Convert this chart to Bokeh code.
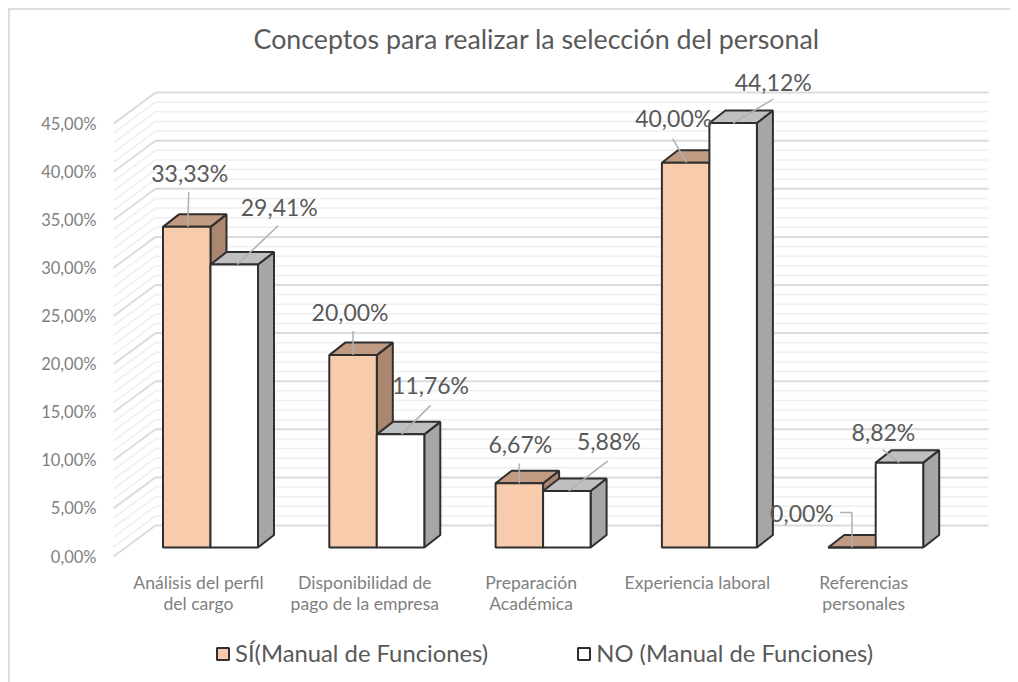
from bokeh.plotting import figure
from bokeh.models import Range1d, FixedTicker, Legend, LegendItem, ColumnDataSource
from bokeh.core.properties import value
from bokeh.embed import file_html
from bokeh.resources import INLINE

# ---- data ----
categories = ["Análisis del perfil\ndel cargo", "Disponibilidad de\npago de la empresa",
              "Preparación\nAcadémica", "Experiencia laboral", "Referencias\npersonales"]
si_values = [33.33, 20.00, 6.67, 40.00, 0.00]
no_values = [29.41, 11.76, 5.88, 44.12, 8.82]
series_names = ["SÍ(Manual de Funciones)", "NO (Manual de Funciones)"]
y_major = [0, 5, 10, 15, 20, 25, 30, 35, 40, 45]
y_minor = [v for v in range(0, 46) if v % 5]
title_text = "Conceptos para realizar la selección del personal"

# ---- layout constants (page pixels) ----
FONT = "Lato"
PX_PCT = 9.62          # px per 1 %
PX_CAT = 166.3         # px per category
X0_PAGE, Y0_PAGE = 210.0, 556.0   # page position of category 0 / value 0 on the front plane
FR_L, FR_R, FR_T, FR_B = 105, 1000, 66, 680
ux = lambda px: px / PX_CAT
uy = lambda px: px / PX_PCT

p = figure(width=1002, height=674, output_backend="svg", toolbar_location=None,
           x_range=Range1d(ux(FR_L - X0_PAGE), ux(FR_R - X0_PAGE)),
           y_range=Range1d(uy(Y0_PAGE - FR_B), uy(Y0_PAGE - FR_T)),
           min_border_left=FR_L - 8, min_border_right=1010 - FR_R,
           min_border_top=FR_T - 8, min_border_bottom=682 - FR_B,
           outline_line_color=None, border_fill_color=None, background_fill_color=None,
           styles={"margin": "8px 0 0 8px", "box-shadow": "inset 2px 2px 0 #dcdcdc"})
p.grid.visible = False

# title
p.title.text = title_text
p.title.text_font = FONT
p.title.text_font_size = "26.8px"
p.title.text_font_style = "normal"
p.title.text_color = "#595959"
p.title.align = "left"
p.title.offset = 253 - FR_L
p.title.standoff = 24

# axes
p.yaxis.ticker = FixedTicker(ticks=y_major)
p.yaxis.major_label_overrides = {v: f"{v},00%" for v in y_major}
p.xaxis.ticker = FixedTicker(ticks=[i + ux(-12) for i in range(len(categories))])
p.xaxis.major_label_overrides = {i + ux(-12): c for i, c in enumerate(categories)}
p.xaxis.fixed_location = uy(Y0_PAGE - 566)
for ax, size, standoff in ((p.yaxis, "16.5px", 3), (p.xaxis, "17.6px", -1)):
    ax.axis_line_color = None
    ax.major_tick_line_color = None
    ax.minor_tick_line_color = None
    ax.major_label_text_font = FONT
    ax.major_label_text_font_size = size
    ax.major_label_text_color = "#7f7f7f"
    ax.major_label_standoff = standoff
p.xaxis.major_label_text_line_height = 1.0

# back wall + side wall grid
WALL_DX, WALL_DY = ux(42), uy(31)
x_left, x_right = ux(113 - X0_PAGE), ux(988 - X0_PAGE)
def grid(vals, color, width):
    p.multi_line([[x_left, x_left + WALL_DX, x_right] for _ in vals],
                 [[v, v + WALL_DY, v + WALL_DY] for v in vals],
                 line_color=color, line_width=width)
grid(y_minor, "#efefef", 1.5)
grid(y_major, "#dcdcdc", 2)

# bars
W = ux(47.5)
DX, DY = ux(16), uy(12.5)
LIFT = uy(9)
OUT = "#2f2f2f"
def bars(values, left, front, top, side):
    xl = [i + left for i in range(len(values))]
    xr = [x + W for x in xl]
    yt = [v + LIFT for v in values]
    p.patches([[r, r + DX, r + DX, r] for r in xr],
              [[LIFT, LIFT + DY, t + DY, t] for t in yt],
              fill_color=side, line_color=OUT, line_width=2)
    p.patches([[l, l + DX, r + DX, r] for l, r in zip(xl, xr)],
              [[t, t + DY, t + DY, t] for t in yt],
              fill_color=top, line_color=OUT, line_width=2)
    return p.vbar(x=[x + W / 2 for x in xl], width=W, bottom=LIFT, top=yt,
                  fill_color=front, line_color=OUT, line_width=2)

r_si = bars(si_values, -W, "#f8cbad", "#c09b82", "#ab8770")
r_no = bars(no_values, 0, "#ffffff", "#bfbfbf", "#a6a6a6")

# data labels and leader lines, anchored to the top-centre of each bar (px offsets, up positive)
LEAD = "#b0b0b0"
si_lab_off = [(3, 54), (-3, 43), (1, 39), (-12, 45), (-50, 35)]
si_lead = [[(1, 0), (2, 35)], [(0, 0), (0, 24)], [(0, 0), (0, 20)],
           [(1, 0), (-13, 24)], [(0, 0), (0, 35), (-12, 35)]]
no_lab_off = [(45, 58), (30, 49), (42, 50), (40, 41), (-16, 31)]
no_lead = [[(3, 0), (44, 39)], [(1, 0), (30, 29)], [(2, 0), (41, 30)],
           [(0, 0), (40, 24)], [(0, 0), (-17, 13)]]

def labels(values, bar_left, offs, leads):
    cx = [i + bar_left + W / 2 for i in range(len(values))]
    ty = [v + LIFT for v in values]
    p.multi_line([[x + ux(a) for a, b in ld] for x, ld in zip(cx, leads)],
                 [[t + uy(b) for a, b in ld] for t, ld in zip(ty, leads)],
                 line_color=LEAD, line_width=1.5)
    src = ColumnDataSource(dict(x=cx, y=ty,
                                text=[f"{v:.2f}%".replace(".", ",") for v in values],
                                xo=[o[0] for o in offs], yo=[-o[1] for o in offs]))
    p.text("x", "y", text="text", source=src, x_offset="xo", y_offset="yo",
           text_font=value(FONT), text_font_size="23px", text_color="#595959",
           text_align="center", text_baseline="middle")

labels(si_values, -W, si_lab_off, si_lead)
labels(no_values, 0, no_lab_off, no_lead)

# legend
legend = Legend(items=[LegendItem(label=series_names[0], renderers=[r_si]),
                       LegendItem(label=series_names[1], renderers=[r_no])],
                orientation="horizontal", location=(215 - FR_L, FR_B - 667),
                padding=0, margin=0, spacing=88, border_line_color=None,
                background_fill_color=None, background_fill_alpha=0,
                glyph_width=15, glyph_height=15, label_standoff=5,
                label_text_font=FONT, label_text_font_size="23.8px", label_text_color="#595959")
p.add_layout(legend, "center")

open("out.html", "w").write(file_html(p, INLINE))
